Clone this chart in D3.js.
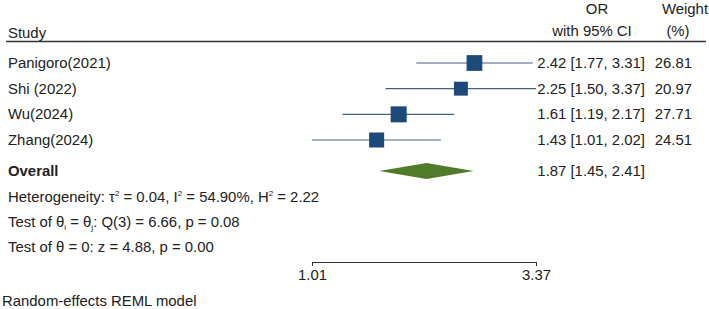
<!DOCTYPE html>
<html>
<head>
<meta charset="utf-8">
<script src="https://cdn.jsdelivr.net/npm/d3@7"></script>
<style>
body { margin: 0; background: #fff; }
svg { display: block; font-family: "Liberation Sans", Arial, sans-serif; }
text { fill: #222; font-size: 14.9px; }
</style>
</head>
<body>
<div id="chart"></div>
<script>
const studies = ["Panigoro(2021)", "Shi (2022)", "Wu(2024)", "Zhang(2024)"];
const or_est  = [2.42, 2.25, 1.61, 1.43];
const ci_low  = [1.77, 1.50, 1.19, 1.01];
const ci_high = [3.31, 3.37, 2.17, 2.02];
const weights = [26.81, 20.97, 27.71, 24.51];
const overall = {est: 1.87, low: 1.45, high: 2.41};
const axis_ticks = [1.01, 3.37];
const notes = [
	"Heterogeneity: τ<sup>2</sup> = 0.04, I<sup>2</sup> = 54.90%, H<sup>2</sup> = 2.22",
	"Test of θ<sub>i</sub> = θ<sub>j</sub>: Q(3) = 6.66, p = 0.08",
	"Test of θ = 0: z = 4.88, p = 0.00"
];

const W = 709, H = 309;
const svg = d3.select("#chart").append("svg").attr("width", W).attr("height", H);

let x = d3.scaleLog().domain([1.01, 3.37]).range([312, 536]);
let rowY = d3.scalePoint().domain(d3.range(studies.length)).range([63, 140]);
let side = d3.scaleSqrt().domain([0, 27.71]).range([0, 16]);

const fmt = d3.format(".2f");

// header
svg.append("text").attr("x", 8).attr("y", 38).text("Study");
svg.append("text").attr("x", 597).attr("y", 14).attr("text-anchor", "middle").text("OR");
svg.append("text").attr("x", 592).attr("y", 36).attr("text-anchor", "middle").text("with 95% CI");
svg.append("text").attr("x", 685).attr("y", 14).attr("text-anchor", "middle").text("Weight");
svg.append("text").attr("x", 678).attr("y", 36).attr("text-anchor", "middle").text("(%)");
svg.append("line").attr("x1", 6).attr("x2", 706).attr("y1", 41.5).attr("y2", 41.5)
	.attr("stroke", "#333").attr("stroke-width", 1.5);

let rows = svg.selectAll(".row")
	.data(studies.map((s, i) => ({name: s, est: or_est[i], lo: ci_low[i], hi: ci_high[i], w: weights[i], i: i})))
	.enter().append("g")
	.attr("class", "row")
	.attr("transform", (d) => "translate(0," + rowY(d.i) + ")");

rows.append("text").attr("x", 8).attr("y", 5).text((d) => d.name);

rows.append("line")
	.attr("x1", (d) => x(d.lo)).attr("x2", (d) => x(d.hi))
	.attr("stroke", "#44627e").attr("stroke-width", 1.2);

rows.append("rect")
	.attr("x", (d) => x(d.est) - side(d.w) / 2)
	.attr("y", (d) => -side(d.w) / 2)
	.attr("width", (d) => side(d.w))
	.attr("height", (d) => side(d.w))
	.attr("fill", "#1d4a78");

rows.append("text").attr("x", 645).attr("y", 5).attr("text-anchor", "end")
	.text((d) => fmt(d.est) + " [" + fmt(d.lo) + ", " + fmt(d.hi) + "]");
rows.append("text").attr("x", 692).attr("y", 5).attr("text-anchor", "end")
	.text((d) => fmt(d.w));

// overall
const oy = 171;
svg.append("text").attr("x", 8).attr("y", oy + 5).attr("font-weight", "bold").text("Overall");
svg.append("path")
	.attr("d", "M" + x(overall.low) + "," + oy + "L" + x(overall.est) + "," + (oy - 8) +
		"L" + x(overall.high) + "," + oy + "L" + x(overall.est) + "," + (oy + 8) + "Z")
	.attr("fill", "#4f7b2a");
svg.append("text").attr("x", 645).attr("y", oy + 5).attr("text-anchor", "end")
	.text(fmt(overall.est) + " [" + fmt(overall.low) + ", " + fmt(overall.high) + "]");

// notes, super/subscripts as shifted tspans
notes.forEach((n, k) => {
	let t = svg.append("text").attr("x", 8).attr("y", 202 + k * 25);
	let back = 0;
	n.split(/(<sup>.*?<\/sup>|<sub>.*?<\/sub>)/).forEach((part) => {
		if (!part) return;
		let m = part.match(/<(sup|sub)>(.*?)<\/\1>/);
		if (m) {
			let shift = m[1] == "sup" ? -6 : 3;
			t.append("tspan").style("font-size", "8px").attr("dy", shift + back).text(m[2]);
			back = -shift;
		} else {
			t.append("tspan").attr("dy", back).text(part);
			back = 0;
		}
	});
});

// axis
let ax = svg.append("g").attr("transform", "translate(0,262)")
	.call(d3.axisBottom(x).tickValues(axis_ticks).tickFormat(fmt).tickSize(4).tickSizeOuter(0));
ax.select(".domain").attr("stroke", "#333");
ax.selectAll(".tick line").attr("stroke", "#333");
ax.selectAll(".tick text").attr("font-family", "Liberation Sans, Arial, sans-serif")
	.attr("fill", "#222").attr("dy", null).attr("y", 18);

svg.append("text").attr("x", 2).attr("y", 306).text("Random-effects REML model");
</script>
</body>
</html>
